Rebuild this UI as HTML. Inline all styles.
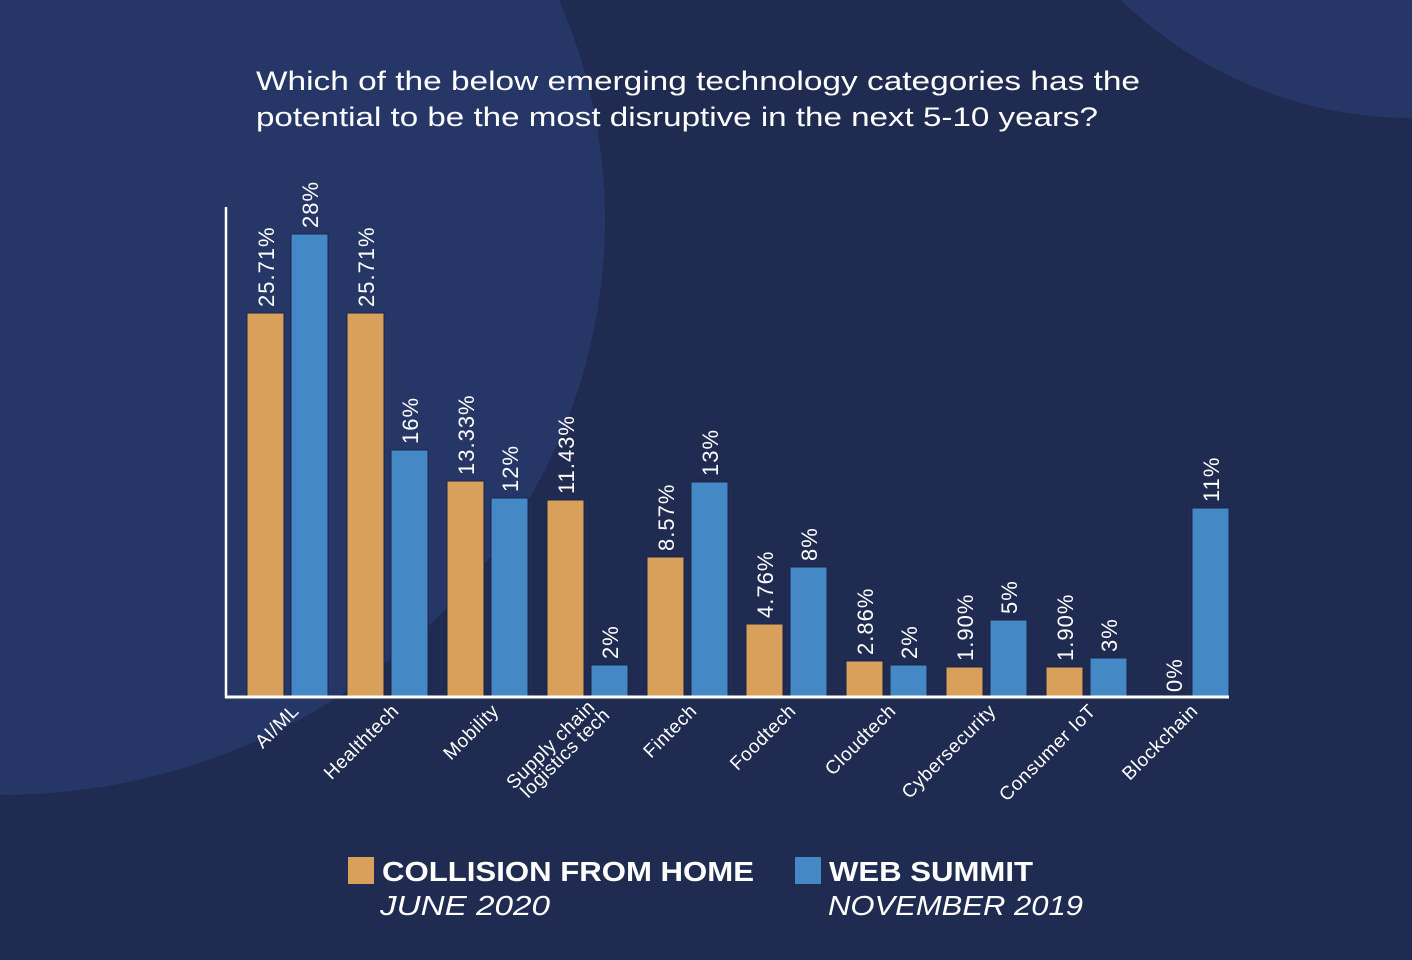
<!DOCTYPE html>
<html><head><meta charset="utf-8"><style>
html,body{margin:0;padding:0;background:#1f2b50;}
svg{display:block}
text{font-family:"Liberation Sans",sans-serif;fill:#fff}
</style></head><body>
<svg width="1412" height="960" viewBox="0 0 1412 960" xmlns="http://www.w3.org/2000/svg">
<rect width="1412" height="960" fill="#1f2b50"/>
<ellipse cx="0" cy="220" rx="605" ry="575" fill="#263767"/>
<circle cx="1412" cy="-300" r="418" fill="#263767"/>
<text x="256" y="90" font-size="27" textLength="884" lengthAdjust="spacingAndGlyphs">Which of the below emerging technology categories has the</text>
<text x="256" y="126" font-size="27" textLength="842" lengthAdjust="spacingAndGlyphs">potential to be the most disruptive in the next 5-10 years?</text>
<g fill="#d9a05b" stroke="#1a2447" stroke-width="1">
<rect x="247" y="313" width="37" height="384"/>
<rect x="347" y="313" width="37" height="384"/>
<rect x="447" y="481" width="37" height="216"/>
<rect x="547" y="500" width="37" height="197"/>
<rect x="647" y="557" width="37" height="140"/>
<rect x="746" y="624" width="37" height="73"/>
<rect x="846" y="661" width="37" height="36"/>
<rect x="946" y="667" width="37" height="30"/>
<rect x="1046" y="667" width="37" height="30"/>
</g>
<g fill="#4488c5" stroke="#1a2447" stroke-width="1">
<rect x="291" y="234" width="37" height="463"/>
<rect x="391" y="450" width="37" height="247"/>
<rect x="491" y="498" width="37" height="199"/>
<rect x="591" y="665" width="37" height="32"/>
<rect x="691" y="482" width="37" height="215"/>
<rect x="790" y="567" width="37" height="130"/>
<rect x="890" y="665" width="37" height="32"/>
<rect x="990" y="620" width="37" height="77"/>
<rect x="1090" y="658" width="37" height="39"/>
<rect x="1192" y="508" width="37" height="189"/>
</g>
<line x1="226" y1="207" x2="226" y2="698" stroke="#fff" stroke-width="2.5"/>
<line x1="225" y1="697" x2="1229" y2="697" stroke="#fff" stroke-width="3"/>
<g font-size="22" letter-spacing="1">
<text transform="translate(274,307) rotate(-90)">25.71%</text>
<text transform="translate(318,228) rotate(-90)">28%</text>
<text transform="translate(374,307) rotate(-90)">25.71%</text>
<text transform="translate(418,444) rotate(-90)">16%</text>
<text transform="translate(474,475) rotate(-90)">13.33%</text>
<text transform="translate(518,492) rotate(-90)">12%</text>
<text transform="translate(574,494) rotate(-90)">11.43%</text>
<text transform="translate(618,659) rotate(-90)">2%</text>
<text transform="translate(674,551) rotate(-90)">8.57%</text>
<text transform="translate(718,476) rotate(-90)">13%</text>
<text transform="translate(773,618) rotate(-90)">4.76%</text>
<text transform="translate(817,561) rotate(-90)">8%</text>
<text transform="translate(873,655) rotate(-90)">2.86%</text>
<text transform="translate(917,659) rotate(-90)">2%</text>
<text transform="translate(973,661) rotate(-90)">1.90%</text>
<text transform="translate(1017,614) rotate(-90)">5%</text>
<text transform="translate(1073,661) rotate(-90)">1.90%</text>
<text transform="translate(1117,652) rotate(-90)">3%</text>
<text transform="translate(1182,692) rotate(-90)">0%</text>
<text transform="translate(1219,502) rotate(-90)">11%</text>
</g>
<g font-size="19" letter-spacing="0.6" text-anchor="end">
<text transform="translate(300,712) rotate(-45)">AI/ML</text>
<text transform="translate(400,712) rotate(-45)">Healthtech</text>
<text transform="translate(500,712) rotate(-45)">Mobility</text>
<text transform="translate(596,708) rotate(-45)">Supply chain</text>
<text transform="translate(611,716) rotate(-45)">logistics tech</text>
<text transform="translate(698,712) rotate(-45)">Fintech</text>
<text transform="translate(797,712) rotate(-45)">Foodtech</text>
<text transform="translate(897,712) rotate(-45)">Cloudtech</text>
<text transform="translate(997,712) rotate(-45)">Cybersecurity</text>
<text transform="translate(1097,712) rotate(-45)">Consumer IoT</text>
<text transform="translate(1199,712) rotate(-45)">Blockchain</text>
</g>
<rect x="348" y="857" width="26" height="27" fill="#d9a05b"/>
<rect x="795" y="857" width="26" height="27" fill="#4488c5"/>
<text x="382" y="881" font-size="28" font-weight="bold" textLength="372" lengthAdjust="spacingAndGlyphs">COLLISION FROM HOME</text>
<text x="380" y="915" font-size="28" font-style="italic" textLength="170" lengthAdjust="spacingAndGlyphs">JUNE 2020</text>
<text x="829" y="881" font-size="28" font-weight="bold" textLength="204" lengthAdjust="spacingAndGlyphs">WEB SUMMIT</text>
<text x="828" y="915" font-size="28" font-style="italic" textLength="255" lengthAdjust="spacingAndGlyphs">NOVEMBER 2019</text>
</svg>
</body></html>
